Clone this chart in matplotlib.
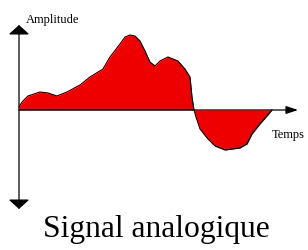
import matplotlib
matplotlib.use("Agg")
import matplotlib.pyplot as plt
import numpy as np

# Signal samples (time, amplitude)
time = [0, 3, 9, 21, 29, 38, 48, 61, 71, 84, 91, 101, 106, 111, 116, 121, 126,
        131, 136, 141, 149, 159, 166, 171, 173, 175, 177, 181, 189, 196, 206,
        221, 228, 233, 241, 248, 253]
amplitude = [3, 8, 14, 18, 17, 14, 18, 25, 33, 41, 53, 66, 73, 75, 74, 69, 59,
             48, 44, 49, 53, 49, 41, 33, 13, 0, -7, -19, -29, -36, -40,
             -38, -34, -24, -14, -6, 0]

y_label = "Amplitude"
x_label = "Temps"
title = "Signal analogique"

fig = plt.figure(figsize=(3.08, 2.51), dpi=100)
ax = fig.add_axes([0, 0, 1, 1])
ax.set_xlim(-19, 289)
ax.set_ylim(-140, 111)
ax.axis("off")

t = np.array(time)
a = np.array(amplitude)
ax.fill_between(t, 0, a, color="#ee0000", lw=0, zorder=2)
ax.plot(t, a, color="black", lw=0.8, zorder=3, solid_joinstyle="round")

# axes with arrows
ax.annotate("", xy=(0, 85), xytext=(0, -99),
            arrowprops=dict(arrowstyle="<|-|>,head_length=0.29,head_width=0.32",
                            mutation_scale=20, shrinkA=0, shrinkB=0,
                            lw=0.9, color="black"), zorder=4)
ax.annotate("", xy=(279, 0), xytext=(0, 0),
            arrowprops=dict(arrowstyle="-|>,head_length=0.36,head_width=0.12",
                            mutation_scale=20, shrinkA=0, shrinkB=0,
                            lw=0.9, color="black"), zorder=4)

ax.text(7, 88, y_label, family="Liberation Serif", fontsize=9, va="baseline", ha="left")
ax.text(253, -27, x_label, family="Liberation Serif", fontsize=9, va="baseline", ha="left")
ax.text(137.5, -126, title, family="Liberation Serif", fontsize=22.7, va="baseline", ha="center")

fig.savefig("out.png", dpi=100)
